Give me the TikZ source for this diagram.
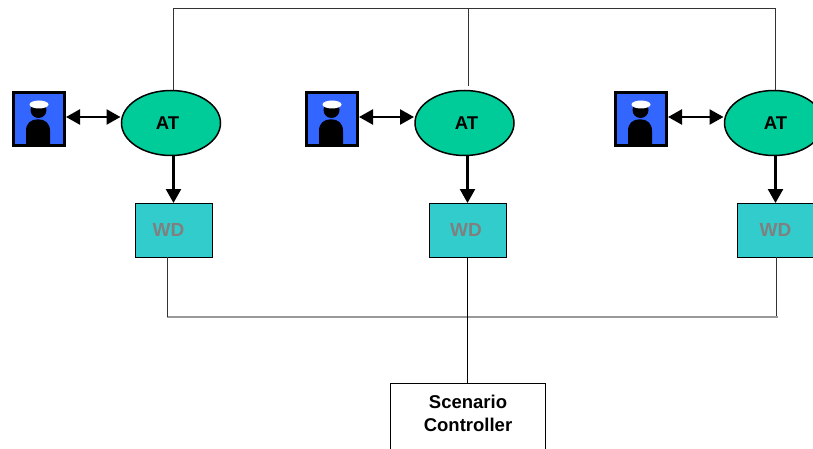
\documentclass[tikz,border=0pt]{standalone}
\usepackage{fontspec}
\setmainfont{Liberation Sans}
\usetikzlibrary{arrows.meta,shapes.geometric}
\definecolor{atgreen}{HTML}{00CC99}
\definecolor{wdteal}{HTML}{33CCCC}
\definecolor{capblue}{HTML}{3366FF}
\definecolor{wdgray}{HTML}{808080}
\tikzset{
   atnode/.style={ellipse,draw,line width=1.5pt,fill=atgreen,minimum width=99pt,
      minimum height=65pt,inner sep=0pt,outer sep=0pt,font=\bfseries\fontsize{18.5}{23}\selectfont},
   wdnode/.style={rectangle,draw,line width=.8pt,fill=wdteal,text=wdgray,minimum width=77pt,
      minimum height=54pt,inner sep=0pt,outer sep=0pt,font=\bfseries\fontsize{19}{23}\selectfont},
   opbox/.style={rectangle,draw,line width=2.8pt,fill=capblue,minimum width=51pt,
      minimum height=53pt,inner sep=0pt,outer sep=1.5pt},
   ctrlbox/.style={rectangle,draw,line width=1pt,fill=white,minimum width=155pt,align=center,
      inner xsep=0pt,inner ysep=12pt,outer sep=0pt,font=\bfseries\fontsize{18.5}{23}\selectfont},
   wire/.style={line width=1pt,color=black!80},
   busline/.style={line width=2.2pt,color=black!40},
   flow/.style={line width=2.4pt,-{Triangle[length=14pt,width=15pt]}},
   talk/.style={line width=2.4pt,{Triangle[length=14pt,width=15pt]}-{Triangle[length=14pt,width=15pt]}}
}
\newcommand{\sailor}[1]{%
   \begin{scope}[shift={(#1)}]
   \fill (-13,25) -- (-13,12) .. controls (-13,4) and (-8,.3) .. (-1,.3) ..
   controls (6,.3) and (11,4) .. (11,12) -- (11,25) -- cycle;
   \fill (-.5,-9) circle [radius=8];
   \fill[white] (0,-14.5) ellipse [x radius=9.5,y radius=4];
   \end{scope}}
\begin{document}
\begin{tikzpicture}[x=1pt,y=-1pt]
   \useasboundingbox (0,0) rectangle (813,449);
   \clip (0,0) rectangle (813,449);

   \coordinate (top1) at (173,9);
   \coordinate (top2) at (468,9);
   \coordinate (top2end) at (468,86);
   \coordinate (top3) at (775,9);
   \coordinate (busl) at (167,317);
   \coordinate (busr) at (778,317);
   \coordinate (bus3) at (776,316);

   \node[opbox] (op1) at (39,119) {};
   \node[opbox] (op2) at (332,119) {};
   \node[opbox] (op3) at (641,119) {};
   \sailor{op1.center}
   \sailor{op2.center}
   \sailor{op3.center}

   \node[atnode] (at1) at (171,123) {\hspace*{-7pt}AT};
   \node[atnode] (at2) at (464.5,123) {\hspace*{4pt}AT};
   \node[atnode] (at3) at (774,123) {\hspace*{3pt}AT};

   \node[wdnode] (wd1) at (173.5,230) {\hspace*{-10pt}WD};
   \node[wdnode] (wd2) at (467.5,230) {\hspace*{-3pt}WD};
   \node[wdnode] (wd3) at (775.5,230) {WD};

   \draw[wire] (at1.north -| top1) -- (top1) -- (top3) -- (at3.north -| top3);
   \draw[wire] (top2) -- (top2end);

   \draw[talk] ([yshift=2pt]op1.east) -- ([yshift=6pt,xshift=-1pt]at1.west);
   \draw[talk] ([yshift=2pt]op2.east) -- ([yshift=6pt,xshift=-1pt]at2.west);
   \draw[talk] ([yshift=2pt]op3.east) -- ([yshift=6pt,xshift=-1pt]at3.west);

   \draw[flow] (wd1.north |- at1.south) -- (wd1.north);
   \draw[flow] (wd2.north |- at2.south) -- (wd2.north);
   \draw[flow] (wd3.north |- at3.south) -- (wd3.north);

   \node[ctrlbox,anchor=north] (ctrl) at (468,383.5) {Scenario\\Controller\\\rule{0pt}{30pt}};

   \draw[busline] (busl) -- (busr);
   \draw[wire] (wd1.south -| busl) -- (busl);
   \draw[wire] (wd3.south -| bus3) -- (bus3);
   \draw[wire,color=black] (wd2.south) -- (wd2.south |- ctrl.north);
\end{tikzpicture}
\end{document}
